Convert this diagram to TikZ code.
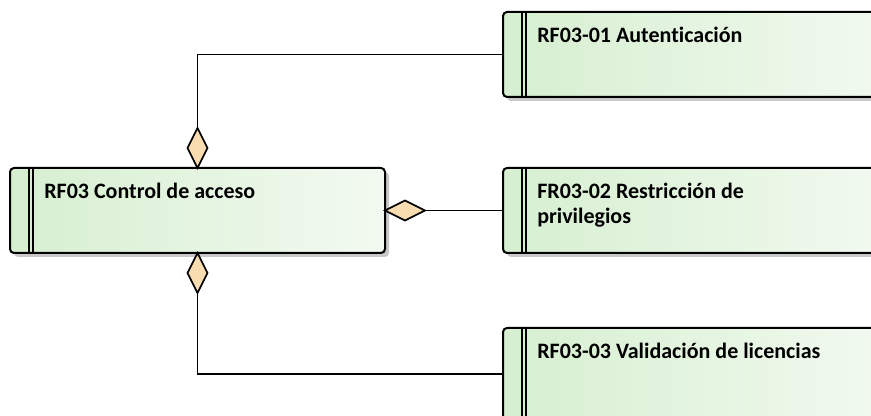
\documentclass[tikz,border=0pt]{standalone}
\usepackage{fontspec}
\setmainfont{Carlito}[Ligatures=NoCommon]
\usepackage{xcolor}
\usepackage{tikz}
\usetikzlibrary{positioning,calc,shapes.geometric,shadows}
\definecolor{reqleft}{HTML}{D6EFD0}
\definecolor{reqright}{HTML}{F3FAF1}
\definecolor{aggfill}{HTML}{F9DDB1}
\definecolor{shade}{HTML}{C8C8C8}
\newcommand{\reqfont}{\fontsize{16.5}{18.4}\selectfont\bfseries}

\begin{document}
\begin{tikzpicture}[x=0.75pt, y=-0.75pt,
  req/.style={draw=black, line width=1.5pt, rounded corners=3pt, left color=reqleft, right color=reqright,
    minimum height=63.75pt, inner sep=0pt, outer sep=0pt,
    drop shadow={shadow xshift=3pt, shadow yshift=-3pt, fill=shade, opacity=1}},
  reqlabel/.style={font=\reqfont, inner sep=0pt, anchor=base west},
  agg/.style={diamond, draw=black, line width=1.2pt, fill=aggfill, inner sep=0pt, outer sep=0pt,
    minimum width=15pt, minimum height=30pt},
  aggh/.style={agg, minimum width=30pt, minimum height=15pt},
  link/.style={draw=black, line width=1.3pt}]
\useasboundingbox (0,0) rectangle (871,416);
\clip (0,0) rectangle (871,416);
\node[req, minimum width=281.25pt] (ctrl) at (197.5,210.5) {};
\node[req, minimum width=297.75pt] (auth) at (701.5,54.5) {};
\node[req, minimum width=297.75pt] (priv) at (701.5,210.5) {};
\node[req, minimum width=297.75pt, minimum height=69pt] (lic) at (701.5,374) {};
\foreach \r in {ctrl,auth,priv,lic} {
  \draw[line width=1.1pt] ([xshift=14.25pt]\r.north west) -- ([xshift=14.25pt]\r.south west);
  \draw[line width=1.1pt] ([xshift=17.25pt]\r.north west) -- ([xshift=17.25pt]\r.south west);
}
\node[reqlabel] (ctrltext) at ($(ctrl.north west)+(34,31)$) {RF03 Control de acceso};
\node[reqlabel] (authtext) at ($(auth.north west)+(34,31)$) {RF03-01 Autenticación};
\node[reqlabel] (privtext) at ($(priv.north west)+(34,31)$)
  {\begin{tabular}[t]{@{}l@{}}FR03-02 Restricción de\\privilegios\end{tabular}};
\node[reqlabel] (lictext) at ($(lic.north west)+(34,31)$) {RF03-03 Validación de licencias};
\node[agg, anchor=south] (atop) at (ctrl.north) {};
\node[agg, anchor=north] (abot) at (ctrl.south) {};
\node[aggh, anchor=west] (aright) at (ctrl.east) {};
\draw[link] (atop.north) |- (auth.west);
\draw[link] (aright.east) -- (priv.west);
\draw[link] (abot.south) |- (lic.west);
\end{tikzpicture}
\end{document}
